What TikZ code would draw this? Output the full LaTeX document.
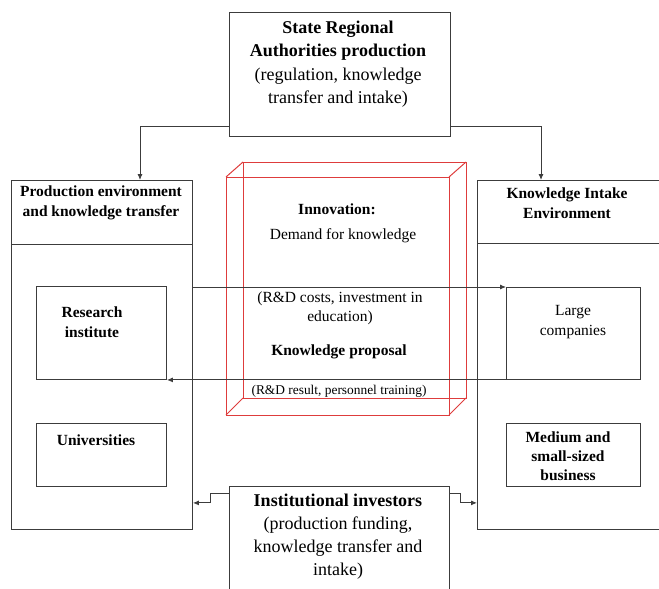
\documentclass[tikz,border=0pt]{standalone}
\usepackage{fontspec}
\setmainfont{Liberation Serif}
\usetikzlibrary{arrows.meta}
\definecolor{cubered}{RGB}{222,60,60}
\definecolor{linegray}{RGB}{60,60,60}
\begin{document}
\begin{tikzpicture}[x=1pt,y=-1pt,
  box/.style={draw=linegray, line width=0.9pt, inner sep=0pt, anchor=north west},
  conn/.style={draw=linegray, line width=0.9pt},
  arr/.style={conn, -{Latex[length=6pt,width=5pt]}},
  cubeline/.style={draw=cubered, line width=1pt},
  big/.style={font=\fontsize{18}{23.5}\selectfont, align=center, inner sep=0pt},
  mid/.style={font=\fontsize{15.5}{20}\selectfont, align=center, inner sep=0pt},
  midb/.style={font=\fontsize{15.5}{20}\selectfont\bfseries, align=center, inner sep=0pt},
  smalltxt/.style={font=\fontsize{13.4}{16}\selectfont, align=center, inner xsep=4pt, inner ysep=1pt, fill=white}
]
\useasboundingbox (0,0) rectangle (659,589);

% boxes
\node[box, minimum width=221, minimum height=124] (state) at (229,12) {};
\node[box, minimum width=181, minimum height=349] (prod) at (11,180) {};
\node[box, minimum width=181, minimum height=64] (prodhead) at (11,180) {};
\node[box, minimum width=210, minimum height=349] (intake) at (477,180) {};
\node[box, minimum width=210, minimum height=63] (intakehead) at (477,180) {};
\node[box, minimum width=130, minimum height=93] (research) at (36,286) {};
\node[box, minimum width=130, minimum height=63] (univ) at (36,423) {};
\node[box, minimum width=134, minimum height=92] (large) at (506,287) {};
\node[box, minimum width=134, minimum height=63] (medium) at (506,423) {};
\node[box, minimum width=220, minimum height=130] (inv) at (229,486) {};

% cube
\draw[cubeline] (243,162) rectangle (466,398);
\draw[cubeline] (226,177) rectangle (449,415);
\draw[cubeline] (226,177) -- (243,162);
\draw[cubeline] (449,177) -- (466,162);
\draw[cubeline] (449,415) -- (466,398);
\draw[cubeline] (226,415) -- (243,398);

% texts
\node[big] (statetxt) at (338,64) {\textbf{State Regional}\\\textbf{Authorities production}\\(regulation, knowledge\\transfer and intake)};
\node[midb] (prodtxt) at (101,203) {Production environment\\and knowledge transfer};
\node[midb] (intaketxt) at (567,203) {Knowledge Intake\\Environment};
\node[midb] (restxt) at (92,322) {Research\\institute};
\node[midb] (univtxt) at (96,440) {Universities};
\node[mid] (largetxt) at (573,322) {Large\\companies};
\node[font=\fontsize{15.5}{19}\selectfont\bfseries, align=center, inner sep=0pt] (medtxt) at (568,456) {Medium and\\small-sized\\business};
\node[midb] (innov) at (337,209) {Innovation:};
\node[mid] (demand) at (343,236) {Demand for knowledge};
\node[mid, font=\fontsize{15.5}{19}\selectfont] (costs) at (340,308) {(R\&D costs, investment in\\education)};
\node[midb] (proposal) at (339,352) {Knowledge proposal};
\node[smalltxt] (result) at (339,391) {(R\&D result, personnel training)};
\node[big, font=\fontsize{18}{23}\selectfont] (invtxt) at (338,537) {\textbf{Institutional investors}\\(production funding,\\knowledge transfer and\\intake)};

% connectors
\coordinate (sl) at (229,126);
\coordinate (sr) at (450,126);
\draw[arr] (sl) -| ([xshift=129pt]prodhead.north west);
\draw[arr] (sr) -| ([xshift=64pt]intakehead.north west);
\draw[arr] (large.north west -| prod.east) -- (large.north west);
\draw[arr] (large.south west) -- (research.south east);
\draw[arr] ([yshift=-7pt]inv.north west) -- ++(-19,0) |- ([yshift=27pt]prod.south east);
\draw[arr] ([yshift=-7pt]inv.north east) -- ++(11,0) |- ([yshift=27pt]intake.south west);
\end{tikzpicture}
\end{document}
